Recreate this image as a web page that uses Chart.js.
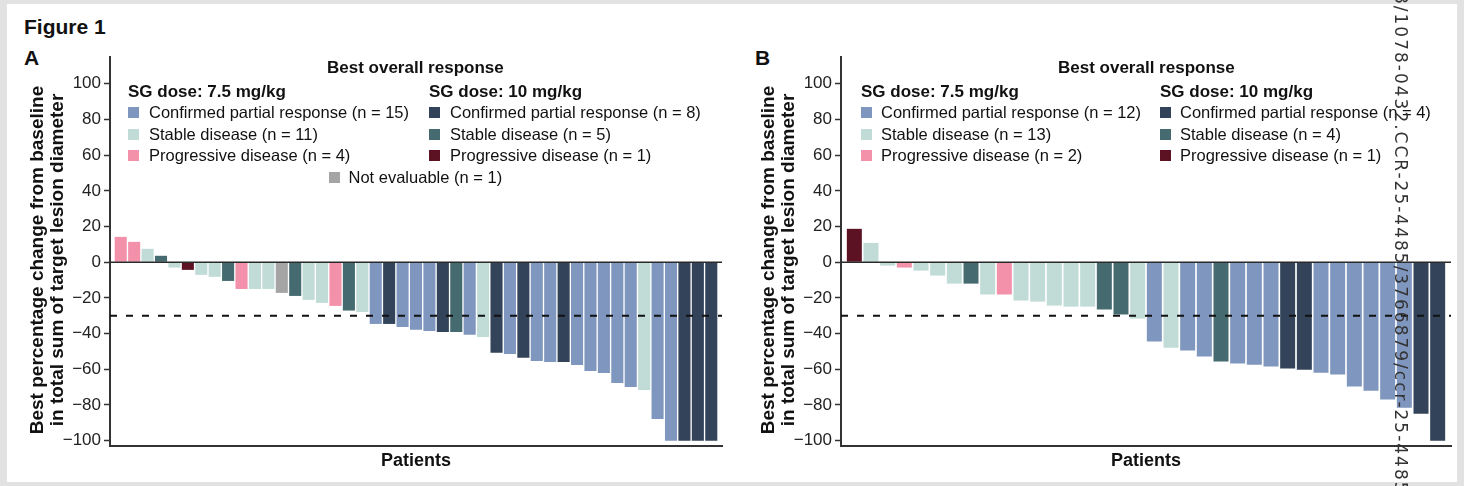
<!DOCTYPE html>
<html lang="en">
<head>
  <meta charset="UTF-8">
  <title>Figure 1 - Best percentage change from baseline</title>
  <script src="https://cdn.jsdelivr.net/npm/chart.js@4"></script>
  <style>
    html, body { margin: 0; padding: 0; }
    body {
      width: 1464px; height: 486px; position: relative; overflow: hidden;
      background: #e2e2e2; color: #111;
      font-family: "Liberation Sans", Arial, sans-serif;
    }
    .sheet { position: absolute; left: 7px; top: 4px; width: 1450px; height: 478px; background: #fff; }
    canvas { position: absolute; }
    .t { position: absolute; white-space: nowrap; line-height: 17px; font-size: 16.5px; }
    .b { font-weight: bold; font-size: 17px; }
    .sq { position: absolute; width: 11px; height: 11px; }
    .big { position: absolute; font-weight: bold; font-size: 21px; line-height: 21px; }
    .ytitle {
      position: absolute; width: 420px; height: 40px; text-align: center;
      font-weight: bold; font-size: 19px; line-height: 20px; transform: rotate(-90deg);
    }
    .stamp {
      position: absolute; left: 1391px; top: -7px; width: 20px; line-height: 20px;
      writing-mode: vertical-rl; white-space: nowrap;
      font-family: "DejaVu Sans", sans-serif; font-size: 17px; letter-spacing: 2px; color: #333;
    }
  </style>
</head>
<body>
  <div class="sheet"></div>
  <div class="big" style="left:24px; top:16px;">Figure 1</div>
  <div class="big" style="left:24px; top:47px;">A</div>
  <div class="big" style="left:755px; top:47px;">B</div>

  <canvas id="chartA" width="710" height="440" style="left:20px; top:40px;"></canvas>
  <canvas id="chartB" width="705" height="440" style="left:751px; top:40px;"></canvas>

  <div id="overlay"></div>
  <div class="stamp">8/1078-0432.CCR-25-4485/3766879/ccr-25-4485</div>

  <script>
    // response groups: SG 7.5 mg/kg and SG 10 mg/kg
    const groupKeys = ['cpr75', 'sd75', 'pd75', 'cpr10', 'sd10', 'pd10', 'ne'];
    const groupNames = {
      cpr75: 'Confirmed partial response', sd75: 'Stable disease', pd75: 'Progressive disease',
      cpr10: 'Confirmed partial response', sd10: 'Stable disease', pd10: 'Progressive disease',
      ne: 'Not evaluable'
    };
    const groupColors = {
      cpr75: '#7f96bf', sd75: '#c1dbd7', pd75: '#f391ab',
      cpr10: '#334359', sd10: '#456b70', pd10: '#5d1224',
      ne: '#a5a5a5'
    };

    // Panel A
    const changeA = [14.2, 11.4, 7.5, 3.6, -3.0, -4.3, -7.1, -8.2, -10.5, -15, -15, -15, -17.2, -18.9, -21.1,
      -22.8, -24.5, -27.1, -27.9, -34.6, -34.6, -36.3, -37.9, -38.5, -39.1, -39.1, -40.7, -41.9, -50.8, -51.4,
      -53.6, -55.3, -55.9, -55.9, -57.6, -60.9, -62.1, -67.7, -69.9, -71.6, -87.9, -100, -100, -100, -100];
    const responseA = ['pd75', 'pd75', 'sd75', 'sd10', 'sd75', 'pd10', 'sd75', 'sd75', 'sd10', 'pd75', 'sd75', 'sd75', 'ne', 'sd10', 'sd75',
      'sd75', 'pd75', 'sd10', 'sd75', 'cpr75', 'cpr10', 'cpr75', 'cpr75', 'cpr75', 'cpr10', 'sd10', 'cpr75', 'sd75', 'cpr10', 'cpr75',
      'cpr10', 'cpr75', 'cpr75', 'cpr10', 'cpr75', 'cpr75', 'cpr75', 'cpr75', 'cpr75', 'sd75', 'cpr75', 'cpr75', 'cpr10', 'cpr10', 'cpr10'];

    // Panel B
    const changeB = [18.7, 10.8, -1.9, -3.0, -4.7, -7.5, -12, -12, -18.1, -18.1, -21.5, -22.1, -24.3, -24.9, -24.9,
      -26.5, -29.3, -31.6, -44.5, -47.9, -49.5, -52.9, -55.7, -56.8, -57.4, -58.5, -59.6, -60.2, -61.9, -63.0,
      -69.7, -72.0, -77.0, -81.5, -84.9, -100];
    const responseB = ['pd10', 'sd75', 'sd75', 'pd75', 'sd75', 'sd75', 'sd75', 'sd10', 'sd75', 'pd75', 'sd75', 'sd75', 'sd75', 'sd75', 'sd75',
      'sd10', 'sd10', 'sd75', 'cpr75', 'sd75', 'cpr75', 'cpr75', 'sd10', 'cpr75', 'cpr75', 'cpr75', 'cpr10', 'cpr10', 'cpr75', 'cpr75',
      'cpr75', 'cpr75', 'cpr75', 'cpr75', 'cpr10', 'cpr10'];

    const threshold = -30;
    const yTitle = ['Best percentage change from baseline', 'in total sum of target lesion diameter'];
    const fontFamily = '"Liberation Sans", Arial, sans-serif';

    // zero line and dashed -30% line on top of the bars
    const refLines = {
      id: 'refLines',
      afterDatasetsDraw(chart) {
        const {ctx, chartArea, scales: {y}} = chart;
        ctx.save();
        ctx.strokeStyle = '#2a2a2a';
        ctx.lineWidth = 1.5;
        ctx.beginPath();
        ctx.moveTo(chartArea.left, y.getPixelForValue(0));
        ctx.lineTo(chartArea.right, y.getPixelForValue(0));
        ctx.stroke();
        ctx.strokeStyle = '#111';
        ctx.lineWidth = 2;
        ctx.setLineDash([7, 9]);
        ctx.beginPath();
        ctx.moveTo(chartArea.left, y.getPixelForValue(threshold));
        ctx.lineTo(chartArea.right, y.getPixelForValue(threshold));
        ctx.stroke();
        ctx.restore();
      }
    };

    function drawPanel(id, values, groups, padRight) {
      const ctx = document.getElementById(id).getContext('2d');
      return new Chart(ctx, {
        type: 'bar',
        data: {
          datasets: [{
            data: values.map((v, i) => ({x: i + 1, y: v})),
            backgroundColor: groups.map(g => groupColors[g]),
            borderWidth: 0,
            barPercentage: 0.9,
            categoryPercentage: 1
          }]
        },
        options: {
          responsive: false,
          animation: false,
          devicePixelRatio: 1,
          layout: {padding: {top: 17, right: padRight, left: 0, bottom: 0}},
          plugins: {legend: {display: false}, tooltip: {enabled: false}},
          scales: {
            x: {
              type: 'linear',
              offset: false,
              min: 0.2,
              max: values.length + 0.8,
              ticks: {display: false},
              grid: {display: false},
              border: {display: true, color: '#333', width: 2},
              title: {
                display: true, text: 'Patients', color: '#111',
                font: {family: fontFamily, size: 18, weight: 'bold', lineHeight: 1.2},
                padding: {top: 0, bottom: 8}
              },
              afterFit(scale) { scale.height = 34; }
            },
            y: {
              min: -103,
              max: 115,
              ticks: {
                stepSize: 20,
                includeBounds: false,
                color: '#222',
                padding: 3,
                font: {family: fontFamily, size: 17},
                callback: v => String(v).replace('-', '\u2212')
              },
              grid: {drawOnChartArea: false, drawTicks: true, tickLength: 6, tickColor: '#333', tickWidth: 1.5},
              border: {display: true, color: '#333', width: 2},
              afterFit(scale) { scale.width = 90; }
            }
          }
        },
        plugins: [refLines]
      });
    }

    drawPanel('chartA', changeA, responseA, 8);
    drawPanel('chartB', changeB, responseB, 5);

    // legends, titles (HTML overlay)
    const overlay = document.getElementById('overlay');
    function addText(text, left, capCenter, bold, center) {
      const d = document.createElement('div');
      d.className = 't' + (bold ? ' b' : '');
      d.textContent = text;
      d.style.top = (capCenter - 8.3) + 'px';
      overlay.appendChild(d);
      if (center) d.style.left = (left - d.offsetWidth / 2) + 'px';
      else d.style.left = left + 'px';
    }
    function addSquare(color, left, capCenter) {
      const s = document.createElement('div');
      s.className = 'sq';
      s.style.background = color;
      s.style.left = left + 'px';
      s.style.top = (capCenter - 5.5) + 'px';
      overlay.appendChild(s);
    }
    function count(groups, key) { return groups.filter(g => g === key).length; }

    const rowY = [112.5, 134, 155.5, 177];
    function buildLegend(groups, titleX, colX, textGap) {
      addText('Best overall response', titleX, 67, true, true);
      addText('SG dose: 7.5 mg/kg', colX[0], 91, true);
      addText('SG dose: 10 mg/kg', colX[1], 91, true);
      [['cpr75', 'sd75', 'pd75'], ['cpr10', 'sd10', 'pd10']].forEach((col, c) => {
        col.forEach((key, r) => {
          addSquare(groupColors[key], colX[c], rowY[r]);
          addText(groupNames[key] + ' (n = ' + count(groups, key) + ')', colX[c] + textGap, rowY[r]);
        });
      });
      const ne = count(groups, 'ne');
      if (ne > 0) {
        addSquare(groupColors.ne, titleX - 87, rowY[3]);
        addText(groupNames.ne + ' (n = ' + ne + ')', titleX - 87 + 20, rowY[3]);
      }
    }
    buildLegend(responseA, 415.5, [128, 429], 21);
    buildLegend(responseB, 1146.5, [861, 1160], 20);

    function addYTitle(cx, cy) {
      const d = document.createElement('div');
      d.className = 'ytitle';
      d.innerHTML = yTitle.join('<br>');
      d.style.left = (cx - 210) + 'px';
      d.style.top = (cy - 20) + 'px';
      overlay.appendChild(d);
    }
    addYTitle(46.7, 260);
    addYTitle(777.7, 260);
  </script>
</body>
</html>
